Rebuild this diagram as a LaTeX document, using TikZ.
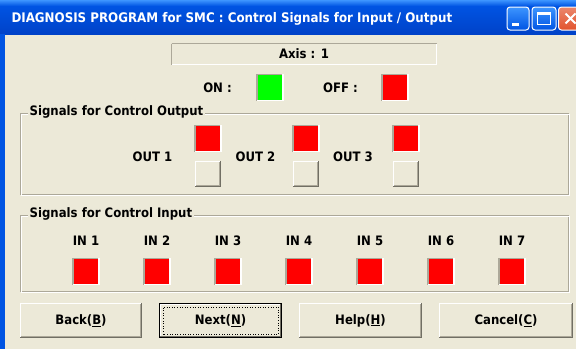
\documentclass[tikz,border=0pt]{standalone}
\usepackage{fontspec}
\setmainfont{DejaVu Sans Condensed}
\usetikzlibrary{positioning,calc}

\definecolor{xpface}{HTML}{ECE9D8}
\definecolor{xpblue}{HTML}{0054E3}
\definecolor{xptop}{HTML}{3D95FF}
\definecolor{xpdeep}{HTML}{0042C8}
\definecolor{edgegray}{HTML}{ACA899}
\definecolor{edgedark}{HTML}{716F64}
\definecolor{lampred}{HTML}{FF0000}
\definecolor{lampgreen}{HTML}{00FF00}
\definecolor{closered}{HTML}{E2532D}

\newcommand\uifont{\fontsize{13}{16}\selectfont\bfseries}
% sunken frame round a node (lamps)
\newcommand\sunkenedge[1]{%
  \draw[edgegray, line width=1.5pt] (#1.south west) -- (#1.north west) -- (#1.north east);
  \draw[white, line width=1.5pt] (#1.north east) -- (#1.south east) -- (#1.south west);
}
% raised frame round a node (push buttons)
\newcommand\raisededge[1]{%
  \draw[white, line width=1pt] ([shift={(0.5pt,0.5pt)}]#1.south west) -- ([shift={(0.5pt,-0.5pt)}]#1.north west) -- ([shift={(-0.5pt,-0.5pt)}]#1.north east);
  \draw[edgedark, line width=1pt] ([shift={(-0.5pt,0pt)}]#1.north east) -- ([shift={(-0.5pt,0.5pt)}]#1.south east) -- ([shift={(0pt,0.5pt)}]#1.south west);
  \draw[edgegray, line width=1pt] ([shift={(-1.5pt,-1.5pt)}]#1.north east) -- ([shift={(-1.5pt,1.5pt)}]#1.south east) -- ([shift={(1.5pt,1.5pt)}]#1.south west);
}

\begin{document}
\begin{tikzpicture}[
  x=1pt, y=-1pt,
  font=\uifont,
  lamp/.style={rectangle, inner sep=0pt, minimum width=26pt, minimum height=26pt},
  pushbox/.style={rectangle, inner sep=0pt, fill=xpface, minimum width=26pt, minimum height=26pt},
  grouplabel/.style={anchor=west, fill=xpface, inner xsep=1.5pt, inner ysep=0pt},
  btn/.style={rectangle, inner sep=0pt, fill=xpface, minimum height=35pt},
  capbtn/.style={rectangle, rounded corners=3pt, draw=white, line width=1pt, minimum height=23pt},
]
  % Window (px units, y downwards)
  \useasboundingbox (0,0) rectangle (576,349);
  \clip (0,0) rectangle (576,349);
  \fill[xpface] (0,0) rectangle (576,349);

  % Title bar
  \shade[top color=xptop, bottom color=xpblue] (0,0) rectangle (576,6);
  \shade[top color=xpblue, bottom color=xpdeep] (0,6) rectangle (576,34);
  \fill[xpblue] (0,34) rectangle (5,349);
  \node[anchor=west, text=white, font=\fontsize{13.2}{16}\selectfont\bfseries] (title) at (8,19)
    {DIAGNOSIS PROGRAM for SMC : Control Signals for Input / Output};

  \node[capbtn, minimum width=22pt, top color=xptop, bottom color=xpblue] (minbtn) at (518,18.5) {};
  \node[capbtn, minimum width=24pt, top color=xptop, bottom color=xpblue] (maxbtn) at (544,18.5) {};
  \node[capbtn, minimum width=24pt, top color=closered!70!white, bottom color=closered] (closebtn) at (570.5,18.5) {};
  \fill[white] ([shift={(5pt,5pt)}]minbtn.south west) rectangle ++(7pt,3pt);
  \draw[white, line width=1pt] ([shift={(6pt,6pt)}]maxbtn.south west) rectangle ([shift={(-6pt,-6pt)}]maxbtn.north east);
  \fill[white] ([shift={(6pt,-6pt)}]maxbtn.north west) rectangle ([shift={(-6pt,-8.5pt)}]maxbtn.north east);
  \draw[white, line width=2pt] ([shift={(-5pt,-5pt)}]closebtn.center) -- ([shift={(5pt,5pt)}]closebtn.center)
    ([shift={(-5pt,5pt)}]closebtn.center) -- ([shift={(5pt,-5pt)}]closebtn.center);

  % Axis field
  \draw[edgegray] (171.5,43.5) -- (171.5,64.5) (171.5,43.5) -- (436.5,43.5);
  \draw[white] (172,64.5) -- (437,64.5) (436.5,43.5) -- (436.5,64.5);
  \node (axis) at (304,54) {Axis : 1};

  % Legend
  \node (onlbl) at (217.5,88) {ON :};
  \node[lamp, fill=lampgreen] (onlamp) at (270,87.5) {};
  \sunkenedge{onlamp}
  \node (offlbl) at (340.5,88) {OFF :};
  \node[lamp, fill=lampred] (offlamp) at (395,87.5) {};
  \sunkenedge{offlamp}

  % Output group
  \draw[edgegray] (20.5,113.5) rectangle (568.5,194.5);
  \draw[white] (21.5,114.5) rectangle (569.5,195.5);
  \node[grouplabel] (outgroup) at (28,112) {Signals for Control Output};
  \foreach \k/\lx/\bx in {1/152.5/208, 2/255.5/306, 3/353/406} {
    \node (outlbl\k) at (\lx,157) {OUT \k};
    \node[lamp, fill=lampred] (outlamp\k) at (\bx,138.5) {};
    \sunkenedge{outlamp\k}
    \node[pushbox] (outbtn\k) at (\bx,174) {};
    \raisededge{outbtn\k}
  }

  % Input group
  \draw[edgegray] (20.5,215.5) rectangle (568.5,291.5);
  \draw[white] (21.5,216.5) rectangle (569.5,292.5);
  \node[grouplabel] (ingroup) at (28,214) {Signals for Control Input};
  \foreach \i in {1,...,7} {
    \pgfmathsetmacro{\cx}{86 + (\i-1)*71}
    \node (inlbl\i) at (\cx,241) {IN \i};
    \node[lamp, fill=lampred] (inlamp\i) at (\cx,271.5) {};
    \sunkenedge{inlamp\i}
  }

  % Buttons
  \node[btn, minimum width=122pt] (back) at (81,320.5) {Back(\underline{B})};
  \node[btn, minimum width=123pt] (next) at (220.5,320.5) {Next(\underline{N})};
  \node[btn, minimum width=123pt] (help) at (360.5,320.5) {Help(\underline{H})};
  \node[btn, minimum width=134pt] (cancel) at (506,320.5) {Cancel(\underline{C})};
  \raisededge{back}
  \raisededge{help}
  \raisededge{cancel}
  \draw[black, line width=1pt] ([shift={(0.5pt,0.5pt)}]next.south west) rectangle ([shift={(-0.5pt,-0.5pt)}]next.north east);
  \draw[white, line width=1pt] ([shift={(1.5pt,1.5pt)}]next.south west) -- ([shift={(1.5pt,-1.5pt)}]next.north west) -- ([shift={(-1.5pt,-1.5pt)}]next.north east);
  \draw[edgedark, line width=1pt] ([shift={(-1.5pt,-1.5pt)}]next.north east) -- ([shift={(-1.5pt,1.5pt)}]next.south east) -- ([shift={(1.5pt,1.5pt)}]next.south west);
  \draw[black, dotted, line width=0.6pt] ([shift={(4pt,4pt)}]next.south west) rectangle ([shift={(-4pt,-4pt)}]next.north east);
\end{tikzpicture}
\end{document}
